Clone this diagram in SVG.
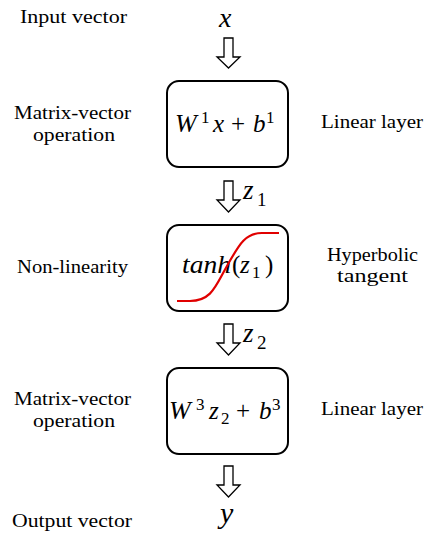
<svg xmlns="http://www.w3.org/2000/svg" width="426" height="533" viewBox="0 0 426 533">
<style>
  .lbl { font-size: 18px; fill: #000; }
  .m { fill: #000; }
  .it { font-style: italic; }
  .box { fill: #fff; stroke: #000; stroke-width: 2; }
  .arr { fill: #fff; stroke: #000; stroke-width: 1.3; stroke-linejoin: miter; }
  .sig { fill: none; stroke: #e00000; stroke-width: 2.2; }
</style>
<rect width="426" height="533" fill="#fff"/>

<g id="connectors">
  <path class="arr" d="M224,38 L233,38 L233,57 L240,57 L228.5,68 L217,57 L224,57 Z"/>
  <path class="arr" d="M224,181 L233,181 L233,200 L240,200 L228.5,212 L217,200 L224,200 Z"/>
  <path class="arr" d="M224,324 L233,324 L233,343 L240,343 L228.5,355 L217,343 L224,343 Z"/>
  <path class="arr" d="M224,466 L233,466 L233,485 L240,485 L228.5,497 L217,485 L224,485 Z"/>
</g>

<g font-family="Liberation Serif, Times New Roman, serif">
<g id="input">
  <text class="m it" x="219" y="27" font-size="28">x</text>
</g>
<g id="label-input">
  <text class="lbl" x="20" y="23" textLength="107" lengthAdjust="spacingAndGlyphs">Input vector</text>
</g>

<g id="linear1">
  <rect class="box" x="167" y="81" width="121" height="86" rx="12"/>
  <text class="m it" x="175" y="132" font-size="26">W</text>
  <text class="m" x="201" y="123" font-size="17">1</text>
  <text class="m it" x="213" y="132" font-size="25">x</text>
  <text class="m" x="231" y="132" font-size="25">+</text>
  <text class="m it" x="253" y="132" font-size="25">b</text>
  <text class="m" x="266" y="123" font-size="17">1</text>
</g>
<g id="label-linear1">
  <text class="lbl" x="14" y="119" textLength="117" lengthAdjust="spacingAndGlyphs">Matrix-vector</text>
  <text class="lbl" x="33" y="141" textLength="82" lengthAdjust="spacingAndGlyphs">operation</text>
  <text class="lbl" x="321" y="128" textLength="102" lengthAdjust="spacingAndGlyphs">Linear layer</text>
</g>

<g id="z1">
  <text class="m it" x="243" y="199" font-size="27">z</text>
  <text class="m" x="257" y="206" font-size="19">1</text>
</g>

<g id="tanh">
  <rect class="box" x="167" y="225" width="121" height="86" rx="12"/>
  <text class="m it" x="182" y="273" font-size="25" textLength="49" lengthAdjust="spacingAndGlyphs">tanh</text>
  <text class="m" x="232" y="273" font-size="25">(</text>
  <text class="m it" x="240" y="273" font-size="25">z</text>
  <text class="m" x="252" y="278" font-size="17">1</text>
  <text class="m" x="265" y="273" font-size="25">)</text>
  <path class="sig" d="M177,301 L190,301 C212,301 216,285 227,266 C238,247 244,233 262,233 L279,233"/>
</g>
<g id="label-tanh">
  <text class="lbl" x="17" y="273" textLength="111" lengthAdjust="spacingAndGlyphs">Non-linearity</text>
  <text class="lbl" x="327" y="261" textLength="91" lengthAdjust="spacingAndGlyphs">Hyperbolic</text>
  <text class="lbl" x="337" y="282" textLength="71" lengthAdjust="spacingAndGlyphs">tangent</text>
</g>

<g id="z2">
  <text class="m it" x="243" y="342" font-size="27">z</text>
  <text class="m" x="257" y="349" font-size="19">2</text>
</g>

<g id="linear3">
  <rect class="box" x="167" y="368" width="121" height="86" rx="12"/>
  <text class="m it" x="169" y="419" font-size="26">W</text>
  <text class="m" x="196" y="410" font-size="17">3</text>
  <text class="m it" x="209" y="419" font-size="25">z</text>
  <text class="m" x="221" y="424" font-size="17">2</text>
  <text class="m" x="236" y="419" font-size="25">+</text>
  <text class="m it" x="259" y="419" font-size="25">b</text>
  <text class="m" x="272" y="410" font-size="17">3</text>
</g>
<g id="label-linear3">
  <text class="lbl" x="14" y="405" textLength="117" lengthAdjust="spacingAndGlyphs">Matrix-vector</text>
  <text class="lbl" x="33" y="427" textLength="82" lengthAdjust="spacingAndGlyphs">operation</text>
  <text class="lbl" x="321" y="415" textLength="102" lengthAdjust="spacingAndGlyphs">Linear layer</text>
</g>

<g id="output">
  <text class="m it" x="220" y="523" font-size="30">y</text>
</g>
<g id="label-output">
  <text class="lbl" x="12" y="527" textLength="120" lengthAdjust="spacingAndGlyphs">Output vector</text>
</g>
</g>
</svg>
